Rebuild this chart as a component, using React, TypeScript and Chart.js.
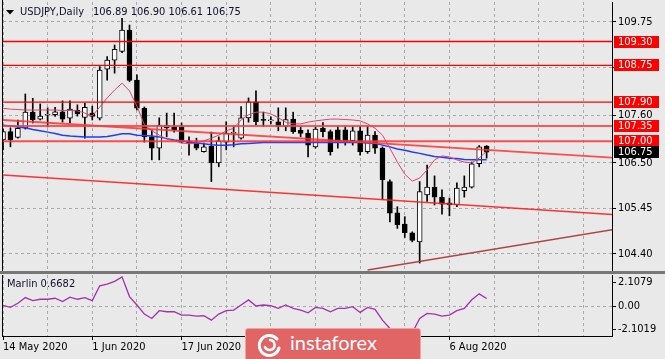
import React, { useEffect, useRef } from "react";
import { Chart, registerables } from "chart.js";
Chart.register(...registerables);

// ---------- data ----------
const symbolTitle = "USDJPY,Daily";
const opens = [107.03, 107.22, 107.09, 107.30, 107.67, 107.51, 107.60, 107.61, 107.68, 107.53,
  107.72, 107.55, 107.65, 107.53, 108.66, 108.87, 109.07, 109.565, 108.41, 107.76,
  107.10, 106.84, 107.31, 107.33, 107.33, 107.01, 106.96, 106.76, 106.89, 106.50,
  106.98, 107.18, 107.07, 107.54, 107.91, 107.49, 107.47, 107.45, 107.34, 107.51,
  107.25, 107.18, 106.87, 107.30, 107.22, 107.26, 107.26, 107.01, 107.24, 106.76,
  107.14, 106.84, 106.07, 105.35, 105.09, 104.89, 104.68, 105.76, 105.94, 105.71,
  105.58, 105.53, 105.86, 105.94, 106.48, 106.89];
const highs = [107.28, 107.31, 107.49, 108.09, 107.99, 107.86, 107.77, 107.78, 107.93, 107.93,
  107.84, 107.88, 107.81, 108.72, 108.95, 109.22, 109.835, 109.68, 108.53, 107.79,
  107.26, 107.54, 107.65, 107.65, 107.42, 107.10, 107.07, 106.96, 107.21, 107.10,
  107.45, 107.35, 107.80, 108.00, 108.16, 107.67, 107.56, 107.77, 107.77, 107.67,
  107.34, 107.26, 107.33, 107.43, 107.26, 107.34, 107.34, 107.34, 107.34, 107.34,
  107.22, 106.87, 106.11, 105.49, 105.26, 104.91, 106.07, 106.45, 106.20, 105.88,
  105.69, 106.04, 106.20, 106.52, 106.90, 106.90];
const lows = [106.80, 106.87, 107.07, 107.28, 107.42, 107.49, 107.33, 107.57, 107.44, 107.42,
  107.58, 107.07, 107.49, 107.49, 108.41, 108.57, 109.04, 108.37, 107.72, 106.98,
  106.57, 106.57, 107.10, 107.21, 106.96, 106.68, 106.80, 106.75, 106.07, 106.41,
  106.80, 106.87, 107.05, 107.44, 107.37, 107.34, 107.40, 107.24, 107.24, 107.18,
  107.10, 106.64, 106.84, 107.10, 106.68, 106.84, 106.91, 106.91, 106.68, 106.72,
  106.72, 105.65, 105.14, 104.99, 104.78, 104.68, 104.19, 105.61, 105.53, 105.32,
  105.28, 105.49, 105.71, 105.92, 106.41, 106.61];
const closes = [107.22, 107.03, 107.30, 107.67, 107.50, 107.58, 107.61, 107.68, 107.51, 107.74,
  107.63, 107.78, 107.57, 108.64, 108.87, 109.12, 109.565, 108.40, 107.76, 107.10,
  106.84, 107.37, 107.37, 107.26, 106.98, 106.96, 106.84, 106.87, 106.50, 107.01,
  107.19, 107.19, 107.54, 107.91, 107.45, 107.48, 107.47, 107.34, 107.50, 107.22,
  107.18, 106.91, 107.28, 107.22, 106.76, 106.99, 106.99, 107.24, 106.76, 107.14,
  106.84, 106.11, 105.34, 105.07, 104.89, 104.71, 105.84, 105.94, 105.71, 105.55,
  105.53, 105.92, 105.94, 106.48, 106.87, 106.75];
const fastMA = [107.76, 107.74, 107.73, 107.72, 107.72, 107.72, 107.72, 107.72, 107.71, 107.71,
  107.70, 107.65, 107.58, 107.79, 108.00, 108.18, 108.34, 108.16, 107.81, 107.38,
  107.24, 107.14, 107.05, 107.01, 106.96, 106.94, 106.96, 107.01, 107.07, 107.14,
  107.24, 107.30, 107.49, 107.61, 107.67, 107.67, 107.63, 107.54, 107.44, 107.40,
  107.40, 107.44, 107.47, 107.49, 107.51, 107.51, 107.50, 107.49, 107.47, 107.40,
  107.30, 107.14, 106.84, 106.52, 106.24, 106.08, 106.15, 106.34, 106.57, 106.66,
  106.64, 106.57, 106.52, 106.50, 106.61, 106.77];
const slowMA = [107.37, 107.35, 107.33, 107.31, 107.27, 107.24, 107.21, 107.18, 107.14, 107.12,
  107.11, 107.10, 107.10, 107.10, 107.11, 107.14, 107.17, 107.17, 107.14, 107.13,
  107.12, 107.10, 107.06, 107.03, 107.01, 106.98, 106.96, 106.94, 106.92, 106.91,
  106.91, 106.92, 106.94, 106.95, 106.96, 106.97, 106.97, 106.97, 106.97, 106.97,
  106.97, 106.97, 106.97, 106.97, 106.97, 106.97, 106.97, 106.97, 106.97, 106.96,
  106.95, 106.91, 106.87, 106.82, 106.79, 106.75, 106.72, 106.68, 106.65, 106.63,
  106.61, 106.60, 106.58, 106.57, 106.57, 106.57];
const marlin = [0.05, -0.12, 0.24, 0.75, 0.48, 0.60, 0.60, 0.69, 0.39, 0.78,
  0.60, 0.75, 0.48, 1.80, 1.95, 2.19, 2.59, 0.84, 0.09, -0.72,
  -1.11, -0.42, -0.51, -0.51, -0.81, -0.81, -0.90, -0.87, -1.26, -0.72,
  -0.42, -0.36, 0.09, 0.54, 0.00, 0.09, 0.03, -0.21, 0.09, -0.21,
  -0.36, -0.60, -0.12, -0.21, -0.51, -0.21, -0.21, -0.06, -0.57, -0.12,
  -0.30, -1.26, -2.0, -2.5, -2.6, -2.4, -1.1, -0.66, -0.72, -0.90,
  -0.81, -0.42, -0.21, 0.55, 1.08, 0.6682];
const levelPrices = [109.30, 108.75, 107.90, 107.35, 107.00];
const trendUpper = [{ x: 0, y: 107.49 }, { x: 82, y: 106.62 }];
const trendLower = [{ x: 0, y: 106.22 }, { x: 82, y: 105.31 }];
const trendSupport = [{ x: 49, y: 104.03 }, { x: 82, y: 104.96 }];
const priceTicks = [104.40, 105.45, 106.50, 107.60, 108.70, 109.75];
const marlinTicks = [-2.1019, 0, 2.1079];
const marlinTickLabels = ["-2.1019", "0.00", "2.1079"];
const gridBars = [0, 6, 12, 18, 24, 30, 36, 42, 48, 54, 60, 66, 72, 78];
const dateTickBars = [0, 12, 24, 36, 48, 60];
const dateTickLabels = ["14 May 2020", "1 Jun 2020", "17 Jun 2020", "3 Jul 2020", "21 Jul 2020", "6 Aug 2020"];

// ---------- view settings ----------
const X_MIN = 0;
const X_MAX = 81.85;
const Y_MIN = 104.007;
const Y_MAX = 110.211;
const M_MIN = -2.669;
const M_MAX = 2.758;
const FONT = "'DejaVu Sans Condensed', 'DejaVu Sans', sans-serif";
const BG = "#e9e9e9";
const GRID = "#a9a9a9";

const zeroPad = (s: any) => {
  s.paddingTop = 0; s.paddingBottom = 0; s.paddingLeft = 0; s.paddingRight = 0;
};

const mainDecor = {
  id: "mainDecor",
  afterDraw(chart: any) {
    const { ctx, chartArea, scales } = chart;
    const ys = scales.y;
    const last = closes.length - 1;
    ctx.save();
    ctx.fillStyle = "#000";
    ctx.fillRect(2, 0, 1, chartArea.bottom);
    ctx.beginPath();
    ctx.moveTo(6, 10); ctx.lineTo(14, 10); ctx.lineTo(10, 14.5); ctx.closePath();
    ctx.fill();
    ctx.font = `11px ${FONT}`;
    ctx.textBaseline = "middle";
    ctx.textAlign = "left";
    ctx.fillStyle = "#10102a";
    ctx.fillText(symbolTitle, 20, 12.5);
    const w = ctx.measureText(symbolTitle).width;
    const vals = [opens[last], highs[last], lows[last], closes[last]].map((v) => v.toFixed(2)).join(" ");
    ctx.fillText(vals, 20 + w + 9, 12.5);
    const box = (p: number, bg: string) => {
      const py = Math.round(ys.getPixelForValue(p));
      ctx.fillStyle = bg;
      ctx.fillRect(614, py - 6, 45, 12);
      ctx.fillStyle = "#fff";
      ctx.fillText(p.toFixed(2), 618, py + 0.5);
    };
    levelPrices.forEach((p) => box(p, "#ff0000"));
    box(closes[last], "#000");
    ctx.restore();
  },
};

const subDecor = {
  id: "subDecor",
  afterDraw(chart: any) {
    const { ctx, chartArea } = chart;
    ctx.save();
    ctx.fillStyle = "#000";
    ctx.fillRect(2, chartArea.top, 1, chartArea.bottom - chartArea.top + 1);
    ctx.font = `11px ${FONT}`;
    ctx.textBaseline = "middle";
    ctx.textAlign = "left";
    ctx.fillStyle = "#10102a";
    ctx.fillText(`Marlin ${marlin[marlin.length - 1].toFixed(4)}`, 7, 12.5);
    ctx.restore();
  },
};

export default function App() {
  const mainRef = useRef<HTMLCanvasElement | null>(null);
  const subRef = useRef<HTMLCanvasElement | null>(null);

  useEffect(() => {
    const idx = opens.map((_, i) => i);
    const levelStyle = [
      { c: "#ff0000", w: 1.3 }, { c: "#ff0000", w: 1.3 }, { c: "#ff0000", w: 1.3 },
      { c: "rgba(255,60,60,0.85)", w: 2 }, { c: "rgba(255,50,50,0.85)", w: 2 },
    ];
    const lineDs = (data: any[], color: string, width: number) => ({
      type: "line", data, borderColor: color, borderWidth: width, pointRadius: 0,
      tension: 0, clip: 0, order: 0, fill: false,
    });
    const main = new Chart(mainRef.current as any, {
      type: "bar",
      data: {
        datasets: [
          ...levelPrices.map((p, k) => lineDs([{ x: X_MIN, y: p }, { x: 82, y: p }], levelStyle[k].c, levelStyle[k].w)),
          lineDs(trendUpper, "rgba(255,50,50,0.85)", 1.8),
          lineDs(trendLower, "rgba(255,30,30,0.9)", 1.5),
          lineDs(trendSupport, "rgba(170,50,50,0.9)", 1.5),
          lineDs(idx.map((i) => ({ x: i, y: fastMA[i] })), "#e0406e", 1),
          lineDs(idx.map((i) => ({ x: i, y: slowMA[i] })), "#1e3cff", 1.5),
          {
            type: "bar", data: idx.map((i) => ({ x: i, y: [lows[i], highs[i]] })),
            backgroundColor: "#000", borderWidth: 0, barThickness: 1, grouped: false, order: 2, clip: 0,
          },
          {
            type: "bar", data: idx.map((i) => ({ x: i, y: [opens[i], closes[i]] })),
            backgroundColor: idx.map((i) => (closes[i] >= opens[i] ? "#ffffff" : "#000000")),
            borderColor: "#000", borderWidth: 1, borderSkipped: false, barThickness: 5,
            grouped: false, minBarLength: 1, order: 1, clip: 0,
          },
        ] as any,
      },
      options: {
        responsive: false, maintainAspectRatio: false, animation: false, devicePixelRatio: 1,
        events: [],
        plugins: { legend: { display: false }, tooltip: { enabled: false } },
        layout: { padding: { left: 3, top: 2, right: 0, bottom: 1 } },
        scales: {
          x: {
            type: "linear", min: X_MIN, max: X_MAX, offset: false,
            afterBuildTicks: (s: any) => { s.ticks = gridBars.map((v) => ({ value: v })); },
            afterFit: (s: any) => { s.height = 0; zeroPad(s); },
            ticks: { display: false },
            grid: { color: GRID, drawTicks: false, offset: false, lineWidth: 1 },
            border: { display: false, dash: [3, 3] },
          },
          y: {
            position: "right", min: Y_MIN, max: Y_MAX,
            afterBuildTicks: (s: any) => { s.ticks = priceTicks.map((v) => ({ value: v })); },
            afterFit: (s: any) => { s.width = 53; zeroPad(s); },
            ticks: {
              autoSkip: false, color: "#000", padding: 2, font: { family: FONT, size: 11 },
              callback: (v: any) => Number(v).toFixed(2),
            },
            grid: { color: GRID, tickLength: 4, tickColor: "#000", lineWidth: 1 },
            border: { display: true, color: "#000", width: 1, dash: [3, 3] },
          },
        },
      } as any,
      plugins: [mainDecor],
    });

    const sub = new Chart(subRef.current as any, {
      type: "line",
      data: {
        datasets: [
          {
            data: idx.map((i) => ({ x: i, y: marlin[i] })), borderColor: "#a62fae",
            borderWidth: 1.3, pointRadius: 0, tension: 0, clip: 0, fill: false,
          },
        ] as any,
      },
      options: {
        responsive: false, maintainAspectRatio: false, animation: false, devicePixelRatio: 1,
        events: [],
        plugins: { legend: { display: false }, tooltip: { enabled: false } },
        layout: { padding: { left: 3, top: 3, right: 0, bottom: 0 } },
        scales: {
          x: {
            type: "linear", min: X_MIN, max: X_MAX, offset: false,
            afterBuildTicks: (s: any) => { s.ticks = gridBars.map((v) => ({ value: v })); },
            afterFit: (s: any) => { s.height = 23; zeroPad(s); },
            ticks: {
              autoSkip: false, maxRotation: 0, minRotation: 0, align: "start", padding: 1,
              color: "#000", font: { family: FONT, size: 11 },
              callback: (v: any) => {
                const k = dateTickBars.indexOf(Number(v));
                return k >= 0 ? dateTickLabels[k] : "";
              },
            },
            grid: {
              color: GRID, tickLength: 4, offset: false, lineWidth: 1,
              tickColor: (c: any) => (c.tick && dateTickBars.indexOf(c.tick.value) >= 0 ? "#000" : "rgba(0,0,0,0)"),
            },
            border: { display: true, color: "#000", width: 1, dash: [3, 3] },
          },
          y: {
            position: "right", min: M_MIN, max: M_MAX,
            afterBuildTicks: (s: any) => { s.ticks = marlinTicks.map((v) => ({ value: v })); },
            afterFit: (s: any) => { s.width = 53; zeroPad(s); },
            ticks: {
              autoSkip: false, color: "#000", padding: 2, font: { family: FONT, size: 11 },
              callback: (_v: any, i: number) => marlinTickLabels[i],
            },
            grid: {
              tickLength: 4, tickColor: "#000", lineWidth: 1,
              color: (c: any) => (c.tick && c.tick.value === 0 ? GRID : "rgba(0,0,0,0)"),
            },
            border: { display: true, color: "#000", width: 1, dash: [3, 3] },
          },
        },
      } as any,
      plugins: [subDecor],
    });

    return () => {
      main.destroy();
      sub.destroy();
    };
  }, []);

  return (
    <div style={{ position: "fixed", left: 0, top: 0, width: 665, height: 359, background: BG, overflow: "hidden" }}>
      <canvas ref={mainRef} width={665} height={272} style={{ position: "absolute", left: 0, top: 0, width: 665, height: 272 }} />
      <canvas ref={subRef} width={665} height={87} style={{ position: "absolute", left: 0, top: 272, width: 665, height: 87 }} />
      <div style={{ position: "absolute", left: 0, top: 271, width: 665, height: 3, background: "#777" }} />
      <div
        style={{
          position: "absolute", left: 245, top: 328, width: 176, height: 36, background: "#e16565",
          border: "1px solid #eea4a4", borderRadius: 3, boxSizing: "border-box",
        }}
      >
        <svg width={30} height={28} style={{ position: "absolute", left: 9, top: 2 }}>
          <path d="M 22 8 A 10 10 0 1 0 24 17" fill="none" stroke="#fff" strokeWidth={3} strokeLinecap="round" />
          <path d="M 15 9 A 5 5 0 1 1 10 16" fill="none" stroke="#fff" strokeWidth={2.5} strokeLinecap="round" />
        </svg>
        <span
          style={{
            position: "absolute", left: 44, top: 3, color: "#fff", fontFamily: "Lato, 'Open Sans', sans-serif",
            fontSize: 20, lineHeight: "20px", whiteSpace: "nowrap",
          }}
        >
          instaforex
        </span>
      </div>
    </div>
  );
}
